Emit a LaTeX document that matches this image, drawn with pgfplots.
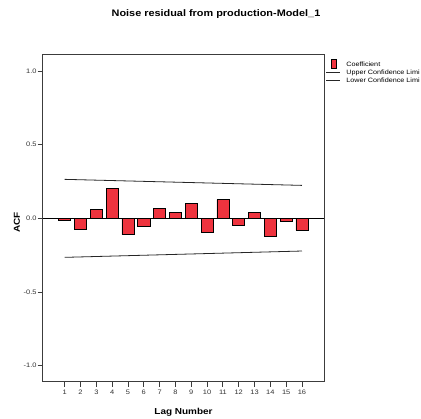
\documentclass[border=0pt]{standalone}
\usepackage{fontspec}
\setmainfont[FakeStretch=1.15]{Liberation Sans}
\usepackage{pgfplots}
\pgfplotsset{compat=1.18}

\definecolor{barred}{RGB}{238,51,62}
\definecolor{axisgray}{RGB}{60,60,60}

\pgfplotsset{
  limline/.style={black!85, line width=0.8bp,
    legend image code/.code={\draw[##1] (0bp,0bp) -- (14bp,0bp);}},
  coefbar/.style={ybar, bar width=0.76, fill=barred, draw=black, line width=0.6bp,
    legend image code/.code={
      \path[draw=none, fill=none] (0bp,0bp) -- (14bp,0bp);
      \draw[fill=barred, draw=black, line width=0.6bp] (4.7bp,-2.6bp) rectangle (9.7bp,6bp);
    }},
}

\begin{document}
\begin{tikzpicture}
\path[use as bounding box] (0,0) rectangle (421bp,419bp);
\begin{axis}[
  at={(42.7bp,37.3bp)}, anchor=south west,
  width=281.6bp, height=326.7bp, scale only axis,
  xmin=-0.39, xmax=17.41,
  ymin=-1.11, ymax=1.11,
  xtick={1,...,16},
  ytick={-1,-0.5,0,0.5,1},
  yticklabels={-1.0,-0.5,0.0,0.5,1.0},
  xtick pos=bottom, ytick pos=left,
  tick align=outside,
  major tick length=5bp,
  every tick/.style={axisgray, line width=0.8bp},
  axis line style={axisgray, line width=1bp},
  /pgf/number format/assume math mode=true,
  tick label style={font=\fontsize{6.5}{7}\selectfont, text=black!80},
  yticklabel style={inner sep=1bp},
  title={Noise residual from production-Model\_1},
  title style={font=\fontsize{9.5}{11}\bfseries, at={(axis description cs:0.5,1)},
    anchor=base, yshift=33bp, xshift=32.5bp},
  xlabel={Lag Number},
  xlabel style={font=\fontsize{8.7}{10}\bfseries, at={(axis description cs:0.5,0)},
    anchor=center, yshift=-30.3bp},
  ylabel={ACF},
  ylabel style={font=\fontsize{8.7}{10}\bfseries, at={(axis description cs:0,0.5)},
    anchor=center, yshift=25.7bp, xshift=-4bp},
  legend cell align=left,
  legend style={draw=none, fill=none, inner sep=0pt,
    at={(axis description cs:1,1)}, anchor=north west, xshift=1.3bp, yshift=-3.8bp,
    font=\fontsize{6.3}{7}\selectfont, row sep=0pt,
    nodes={inner sep=0.8bp, text height=4.6bp, text depth=1.4bp},
    /tikz/every odd column/.append style={column sep=4.9bp}},
]
\addplot[coefbar] coordinates {
  (1,-0.011) (2,-0.077) (3,0.059) (4,0.202) (5,-0.111) (6,-0.054)
  (7,0.066) (8,0.043) (9,0.102) (10,-0.095) (11,0.127) (12,-0.050)
  (13,0.039) (14,-0.122) (15,-0.020) (16,-0.082)};
\addlegendentry{Coefficient}
\addplot[black, line width=0.8bp, forget plot] coordinates {(-0.39,0) (17.41,0)};
\addplot[limline] coordinates {(1,0.265) (16,0.224)};
\addlegendentry{Upper Confidence Limi}
\addplot[limline] coordinates {(1,-0.265) (16,-0.222)};
\addlegendentry{Lower Confidence Limi}
\end{axis}
\end{tikzpicture}
\end{document}
